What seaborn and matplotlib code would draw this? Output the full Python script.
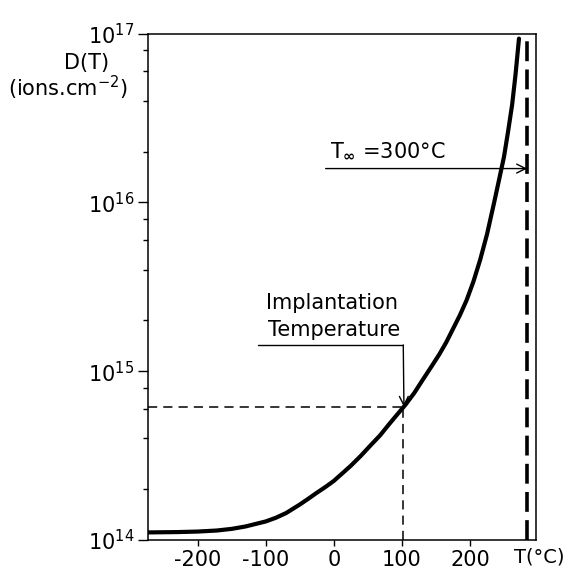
import numpy as np
import pandas as pd
import matplotlib
matplotlib.use("Agg")
import matplotlib.pyplot as plt
from matplotlib.ticker import LogLocator, NullFormatter, FixedLocator
import seaborn as sns

# ---- data ----
temperature_c = [-273, -230, -200, -172, -150, -130, -100, -85, -70, -60, -50,
                 -38, -25, -12, 0, 12, 25, 40, 55, 68, 80, 92, 105, 118, 130,
                 143, 155, 165, 175, 185, 195, 205, 215, 225, 235, 242, 250,
                 256, 262, 267, 272]
dose = [1.109e14, 1.114e14, 1.122e14, 1.138e14, 1.164e14, 1.202e14, 1.288e14,
        1.355e14, 1.445e14, 1.531e14, 1.622e14, 1.750e14, 1.905e14, 2.065e14,
        2.239e14, 2.472e14, 2.754e14, 3.162e14, 3.673e14, 4.169e14, 4.786e14,
        5.470e14, 6.31e14, 7.413e14, 8.81e14, 1.059e15, 1.259e15, 1.479e15,
        1.778e15, 2.138e15, 2.63e15, 3.388e15, 4.571e15, 6.457e15, 9.77e15,
        1.318e16, 1.862e16, 2.630e16, 3.802e16, 5.754e16, 9.33e16]

x_ticks = [-200, -100, 0, 100, 200]
x_tick_labels = ["-200", "-100", "0", "100", "200"]
y_ticks = [1e14, 1e15, 1e16, 1e17]
y_tick_labels = [r"$10^{14}$", r"$10^{15}$", r"$10^{16}$", r"$10^{17}$"]

T_impl = 102          # implantation temperature marker
D_impl = 6.15e14
T_inf_line = 284      # heavy dashed asymptote as drawn
D_inf_arrow = 1.585e16

df = pd.DataFrame({"T": temperature_c, "D": dose})

sns.set_theme(style="ticks")
plt.rcParams["font.family"] = ["DejaVu Sans"]
plt.rcParams["mathtext.fontset"] = "dejavusans"
for k in ["text.color", "axes.labelcolor", "xtick.color", "ytick.color",
          "axes.edgecolor"]:
    plt.rcParams[k] = "black"

fig = plt.figure(figsize=(5.67, 5.74), dpi=100)
ax = fig.add_axes([148 / 567, 34 / 574, (536 - 148) / 567, (540 - 33.5) / 574])

ax.set_yscale("log")
ax.set_xlim(-273, 297)
ax.set_ylim(1e14, 1e17)

sns.lineplot(data=df, x="T", y="D", ax=ax, color="black", lw=3.0, sort=False)

# dashed reference lines at implantation temperature
ax.plot([-273, T_impl], [D_impl, D_impl], color="black", lw=1.1,
        linestyle=(0, (6, 4)))
ax.plot([T_impl, T_impl], [1e14, D_impl], color="black", lw=1.1,
        linestyle=(0, (6, 4)))
# heavy dashed asymptote
ax.plot([T_inf_line, T_inf_line], [1e14, 1e17], color="black", lw=2.6,
        linestyle=(0, (5.5, 2.3)))

# T_inf annotation
ax.annotate("", xy=(T_inf_line, D_inf_arrow), xytext=(-12, D_inf_arrow),
            arrowprops=dict(arrowstyle="->", lw=1.0, color="black",
                            shrinkA=0, shrinkB=0, mutation_scale=16))
ax.text(-6, 1.75e16, r"T$_{\mathbf{\infty}}$ =300°C", fontsize=15, ha="left",
        va="bottom", color="black")

# implantation annotation
ax.plot([-112, T_impl], [1.43e15, 1.43e15], color="black", lw=1.0)
ax.annotate("", xy=(T_impl + 1, D_impl), xytext=(T_impl, 1.43e15),
            arrowprops=dict(arrowstyle="->", lw=1.0, color="black",
                            shrinkA=0, shrinkB=0, mutation_scale=16))
ax.text(-3, 2.55e15, "Implantation", fontsize=15, ha="center", va="center")
ax.text(0, 1.75e15, "Temperature", fontsize=15, ha="center", va="center")

# ticks
ax.xaxis.set_major_locator(FixedLocator(x_ticks))
ax.set_xticklabels(x_tick_labels, fontsize=15)
ax.yaxis.set_major_locator(FixedLocator(y_ticks))
ax.set_yticklabels(y_tick_labels, fontsize=15)
ax.yaxis.set_minor_locator(LogLocator(base=10, subs=[2, 4, 6, 8]))
ax.yaxis.set_minor_formatter(NullFormatter())
ax.tick_params(axis="x", which="major", direction="out", length=4, width=1.0,
               pad=3, colors="black")
ax.tick_params(axis="y", which="major", direction="out", length=7, width=1.0,
               pad=3, colors="black")
ax.tick_params(axis="y", which="minor", direction="out", length=3.5, width=1.0)
ax.tick_params(axis="x", which="minor", bottom=False)
for s in ax.spines.values():
    s.set_visible(True)
    s.set_color("black")
    s.set_linewidth(1.1)
ax.set_xlabel("")
ax.set_ylabel("")

fig.text(539 / 567, 1 - 557 / 574, "T(°C)", fontsize=14, ha="center", va="center")
fig.text(87 / 567, 1 - 63 / 574, "D(T)", fontsize=15, ha="center", va="center")
fig.text(68 / 567, 1 - 88 / 574, r"(ions.cm$^{-2}$)", fontsize=15,
         ha="center", va="center")

fig.savefig("out.png", dpi=100, facecolor="white")
